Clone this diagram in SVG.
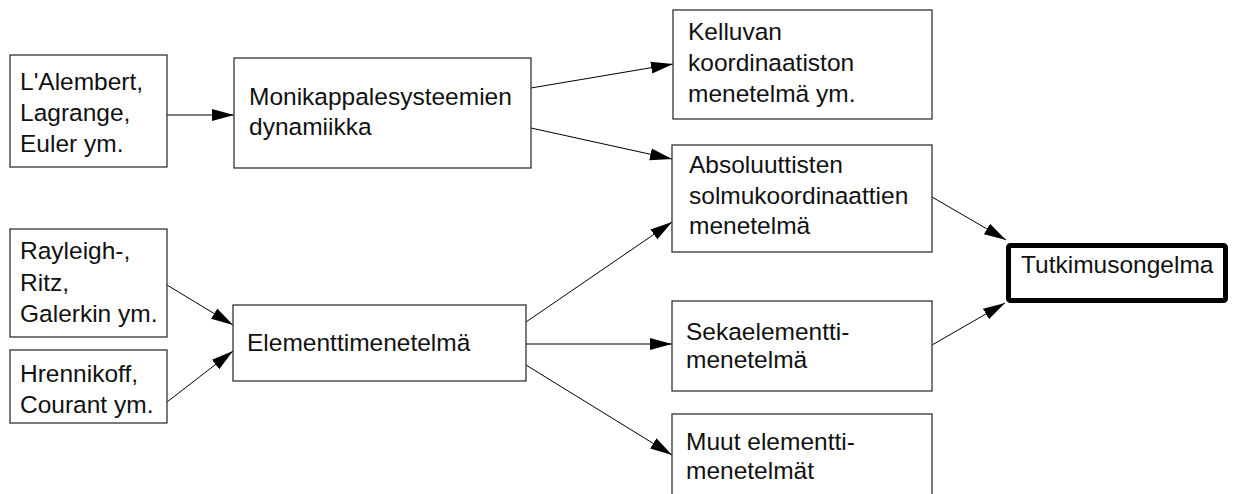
<svg xmlns="http://www.w3.org/2000/svg" width="1235" height="494" viewBox="0 0 1235 494">
<style>
.box{fill:#fff;stroke:#333;stroke-width:1.3}
.main{fill:#fff;stroke:#000;stroke-width:5}
text{font-family:"Liberation Sans",Arial,sans-serif;font-size:24.5px;fill:#111}
.c line{stroke:#000;stroke-width:1;marker-end:url(#ah)}
</style>
<defs>
<marker id="ah" markerUnits="userSpaceOnUse" markerWidth="22" markerHeight="14" refX="22" refY="7" orient="auto">
<path d="M0,1 L22,7 L0,13 z" fill="#000"/>
</marker>
</defs>
<rect width="1235" height="494" fill="#fff"/>
<g class="c" id="connectors">
<line x1="167" y1="115" x2="234" y2="115"/>
<line x1="531" y1="88" x2="673" y2="64"/>
<line x1="531" y1="128" x2="672" y2="159"/>
<line x1="167" y1="285" x2="233" y2="325"/>
<line x1="167" y1="402" x2="233" y2="351"/>
<line x1="526" y1="322" x2="672" y2="222"/>
<line x1="526" y1="344" x2="672" y2="344"/>
<line x1="526" y1="365" x2="672" y2="455"/>
<line x1="932" y1="197" x2="1006" y2="240"/>
<line x1="932" y1="345" x2="1005" y2="303"/>
</g>
<g id="n1"><rect class="box" x="10" y="55" width="157" height="112"/>
<text x="20" y="90">L'Alembert,</text><text x="20" y="121">Lagrange,</text><text x="20" y="152">Euler ym.</text></g>
<g id="n2"><rect class="box" x="234" y="58" width="297" height="110"/>
<text x="249" y="105">Monikappalesysteemien</text><text x="249" y="135">dynamiikka</text></g>
<g id="n3"><rect class="box" x="673" y="10" width="259" height="109"/>
<text x="688" y="40">Kelluvan</text><text x="688" y="71">koordinaatiston</text><text x="688" y="102">menetelmä ym.</text></g>
<g id="n4"><rect class="box" x="672" y="145" width="260" height="107"/>
<text x="689" y="173">Absoluuttisten</text><text x="689" y="204">solmukoordinaattien</text><text x="689" y="234">menetelmä</text></g>
<g id="n5"><rect class="main" x="1008.5" y="245.5" width="217" height="55" rx="2"/>
<text x="1021" y="273">Tutkimusongelma</text></g>
<g id="n6"><rect class="box" x="10" y="229" width="157" height="108"/>
<text x="20" y="259">Rayleigh-,</text><text x="20" y="291">Ritz,</text><text x="20" y="322">Galerkin ym.</text></g>
<g id="n7"><rect class="box" x="10" y="350" width="157" height="73"/>
<text x="20" y="382">Hrennikoff,</text><text x="20" y="413">Courant ym.</text></g>
<g id="n8"><rect class="box" x="233" y="305" width="293" height="76"/>
<text x="247" y="351">Elementtimenetelmä</text></g>
<g id="n9"><rect class="box" x="672" y="301" width="260" height="90"/>
<text x="686" y="340">Sekaelementti-</text><text x="686" y="368">menetelmä</text></g>
<g id="n10"><rect class="box" x="672" y="414" width="260" height="100"/>
<text x="686" y="450">Muut elementti-</text><text x="686" y="479">menetelmät</text></g>
</svg>
